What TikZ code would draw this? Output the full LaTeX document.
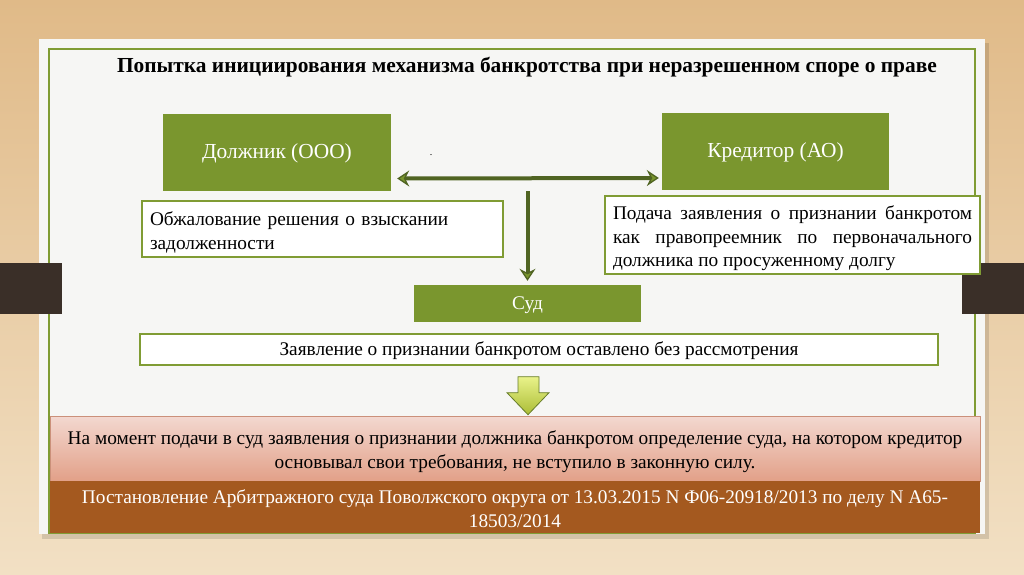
\documentclass[tikz,border=0pt]{standalone}
\usepackage{fontspec}
\setmainfont{Liberation Serif}
\usepackage{tikz}
\usetikzlibrary{arrows.meta, positioning, calc}
\definecolor{verdeCaja}{RGB}{122,150,46}
\definecolor{verdeBorde}{RGB}{128,156,52}
\definecolor{verdeOscuro}{RGB}{80,100,34}
\definecolor{fondoTarjeta}{RGB}{246,246,244}
\definecolor{maderaA}{RGB}{224,186,136}
\definecolor{maderaB}{RGB}{242,224,196}
\definecolor{marronBanda}{RGB}{58,47,40}
\definecolor{rosaA}{RGB}{243,216,208}
\definecolor{rosaB}{RGB}{226,160,136}
\definecolor{marronCaja}{RGB}{164,89,31}
\newcommand{\bajar}{\rule{0pt}{21pt}}

\begin{document}
\begin{tikzpicture}[x=1pt, y=-1pt,
  partybox/.style={rectangle, fill=verdeCaja, text=white, inner sep=0pt, text height=12pt, text depth=0pt,
              font=\fontsize{21.4}{25}\selectfont, minimum width=228pt, minimum height=77pt},
  notebox/.style={rectangle, draw=verdeBorde, line width=2pt, fill=white, inner xsep=7pt, inner ysep=2pt,
              font=\fontsize{19.3}{23.5}\selectfont},
  arr/.style={->, >={Stealth[length=12pt, width=16pt, inset=4pt, fill=verdeCaja, line width=1.3pt]},
              line width=4pt, color=verdeOscuro},
  dblarr/.style={arr, <->}
]
  \useasboundingbox (0,0) rectangle (1024,574);
  \fill[top color=maderaA, bottom color=maderaB] (0,0) rectangle (1024,574);
  \fill[black, opacity=0.12] (42,43) rectangle (989,539);
  \fill[fondoTarjeta] (39,39) rectangle (985,534);
  \draw[verdeBorde, line width=1.3pt] (49,49) rectangle (975,533);
  \fill[marronBanda] (0,263) rectangle (62,314);
  \fill[marronBanda] (962,263) rectangle (1024,314);

  \node[font=\bfseries\fontsize{21.4}{25}\selectfont] (title) at (527,67)
    {Попытка инициирования механизма банкротства при неразрешенном споре о праве};

  \node[partybox] (debtor) at (277,152.5) {Должник (ООО)};
  \node[partybox, minimum width=227pt] (creditor) at (775.5,151.5) {Кредитор (АО)};
  \node[anchor=base] (dot) at (431,155) {.};

  \node[notebox, minimum width=361pt, minimum height=56pt, text width=345pt, align=left]
    (appeal) at (322.5,229) {\bajar Обжалование решения о взыскании\\задолженности};
  \node[notebox, minimum width=375pt, minimum height=78pt, text width=359pt, align=justify]
    (claim) at (792.5,235) {\bajar Подача заявления о признании банкротом\linebreak
      как правопреемник по первоначального\linebreak должника по просуженному долгу};

  \node[partybox, minimum width=227pt, minimum height=37pt, text height=11pt,
        font=\fontsize{19.3}{23.5}\selectfont] (court) at (527.5,303.5) {Суд};
  \node[notebox, minimum width=798pt, minimum height=31pt, text height=11pt, text depth=0pt]
    (dismissed) at (539,349.5) {Заявление о признании банкротом оставлено без рассмотрения};

  \node[rectangle, draw=rosaB!90!black, line width=0.6pt, top color=rosaA, bottom color=rosaB,
        minimum width=930pt, minimum height=65pt, align=center,
        font=\fontsize{19.3}{24}\selectfont] (reason) at (515,448.5)
    {\bajar На момент подачи в суд заявления о признании должника банкротом определение суда, на котором кредитор\\
     основывал свои требования, не вступило в законную силу.};
  \node[rectangle, fill=marronCaja, text=white, minimum width=930pt, minimum height=52pt,
        align=center, font=\fontsize{19.3}{24}\selectfont] (ruling) at (515,507)
    {\rule{0pt}{17pt}Постановление Арбитражного суда Поволжского округа от 13.03.2015 N Ф06-20918/2013 по делу N А65-\\
     18503/2014};

  \draw[dblarr] ([xshift=6pt, yshift=-26pt]debtor.east) -- ([xshift=-3pt, yshift=-26.5pt]creditor.west);
  \draw[arr] (court.north |- debtor.south) -- ([yshift=4pt]court.north);

  \coordinate (arrowtip) at ($(reason.north)+(13,-1)$);
  \draw[verdeBorde!80!black, line width=0.8pt, top color=green!10!yellow!40!white!90!olive,
        bottom color=verdeCaja!70!yellow!90!white]
    ($(arrowtip)+(-10,-38)$) -- ($(arrowtip)+(11,-38)$) -- ($(arrowtip)+(11,-22)$) -- ($(arrowtip)+(21,-22)$)
    -- (arrowtip) -- ($(arrowtip)+(-21,-22)$) -- ($(arrowtip)+(-10,-22)$) -- cycle;
\end{tikzpicture}
\end{document}
